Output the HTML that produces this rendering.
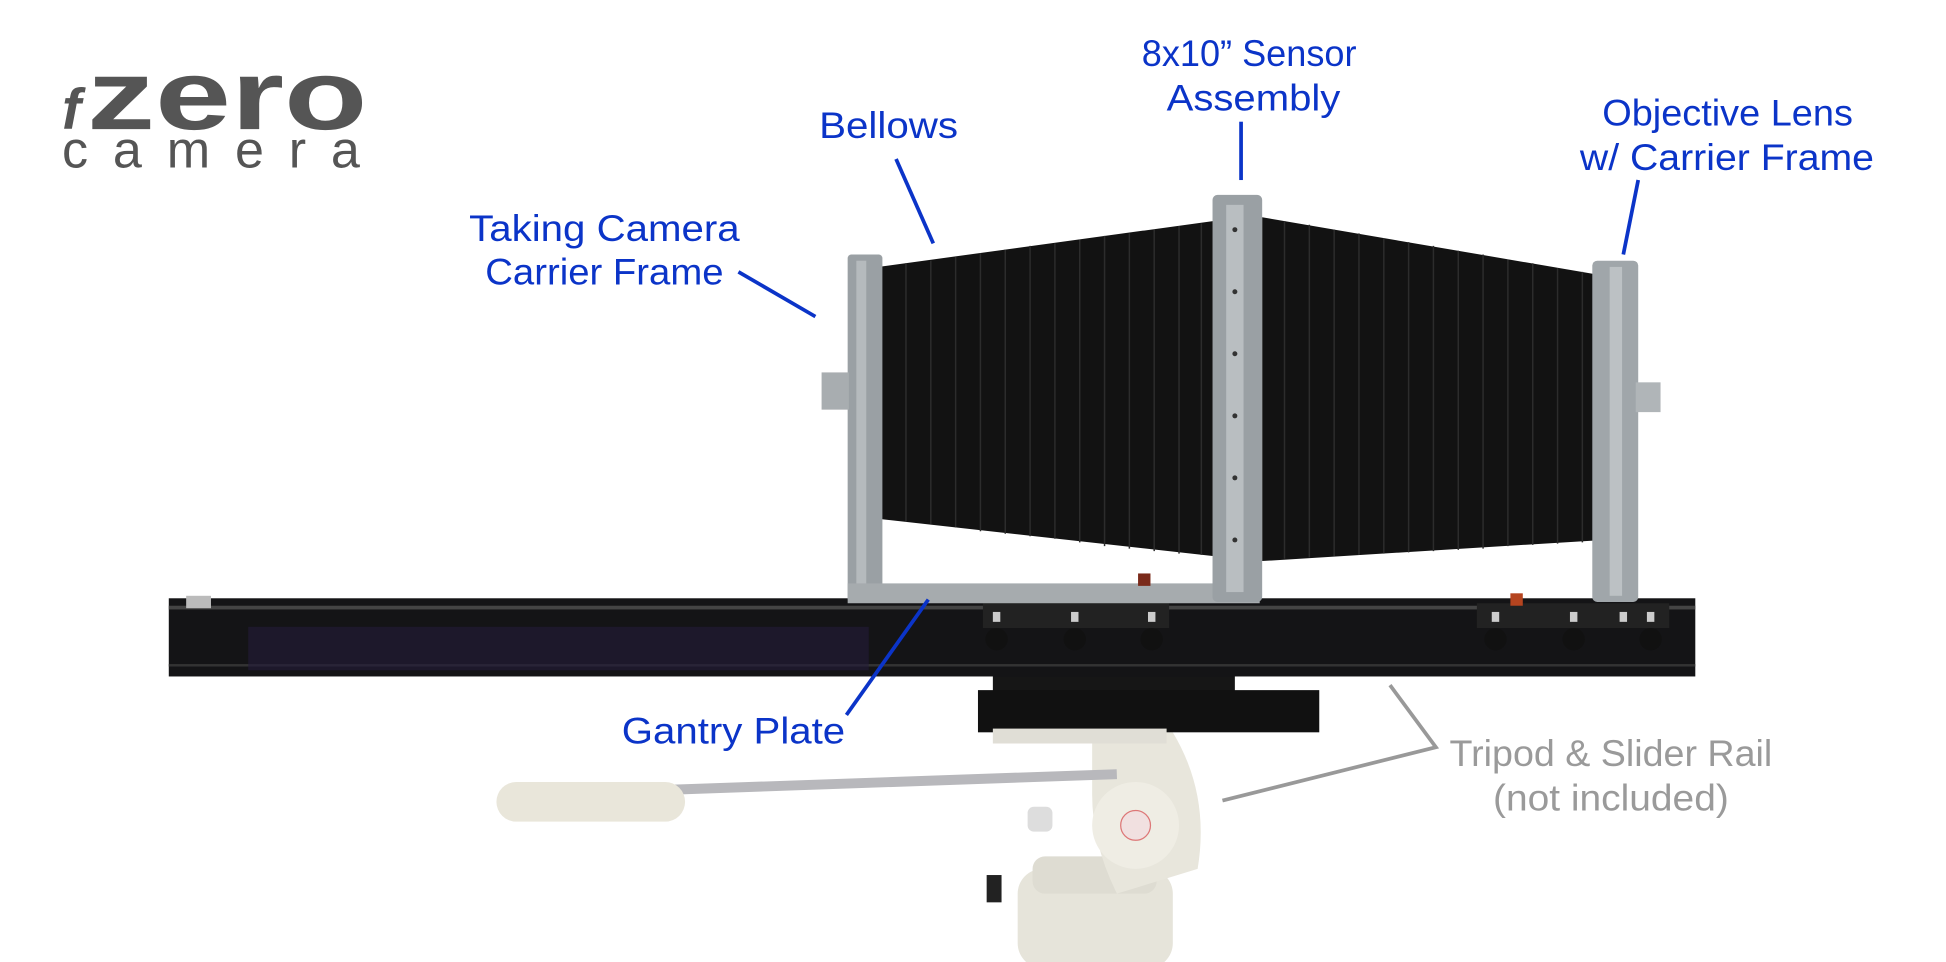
<!DOCTYPE html>
<html><head><style>
html,body{margin:0;padding:0;background:#fff;}
svg{display:block}
text{font-family:"Liberation Sans",sans-serif;}
</style></head><body>
<svg width="1946" height="962" viewBox="0 0 1568 775" xmlns="http://www.w3.org/2000/svg">
<rect width="1568" height="775" fill="#fff"/>
<!-- logo -->
<text x="50" y="104" font-size="46" font-weight="bold" font-style="italic" fill="#555">f</text>
<text x="70" y="104" font-size="80" font-weight="bold" fill="#555" textLength="226" lengthAdjust="spacingAndGlyphs">zero</text>
<text x="50" y="135" font-size="42" fill="#555" textLength="240" lengthAdjust="spacing">camera</text>

<!-- tripod -->
<rect x="820" y="700" width="125" height="80" rx="20" fill="#e6e4da"/>
<rect x="832" y="690" width="100" height="30" rx="10" fill="#dedcd2"/>
<path d="M880 590 L945 590 Q975 640 965 700 L900 720 Q880 680 880 640 Z" fill="#e8e6dc"/>
<circle cx="915" cy="665" r="35" fill="#efede4"/>
<circle cx="915" cy="665" r="12" fill="#f1e0e0" stroke="#d77" stroke-width="1"/>
<rect x="540" y="626" width="360" height="8" fill="#b8b8bc" transform="rotate(-2 720 630)"/>
<rect x="400" y="630" width="152" height="32" rx="16" fill="#e9e6da"/>
<rect x="828" y="650" width="20" height="20" rx="5" fill="#ddd"/>
<rect x="795" y="705" width="12" height="22" fill="#222"/>

<!-- mount plates -->
<rect x="800" y="540" width="195" height="30" fill="#161616"/>
<rect x="788" y="556" width="275" height="34" fill="#111"/>
<rect x="800" y="587" width="140" height="12" fill="#e0ded6"/>

<!-- rail -->
<rect x="136" y="482" width="1230" height="63" fill="#141416"/>
<rect x="136" y="488" width="1230" height="3" fill="#444"/>
<rect x="136" y="535" width="1230" height="2" fill="#333"/>
<rect x="200" y="505" width="500" height="35" fill="#231a3a" opacity="0.6"/>
<rect x="150" y="480" width="20" height="10" fill="#bbb"/>
<rect x="792" y="486" width="150" height="20" fill="#222"/>
<rect x="1190" y="486" width="155" height="20" fill="#222"/>
<g fill="#111">
<circle cx="803" cy="515" r="9"/><circle cx="866" cy="515" r="9"/><circle cx="928" cy="515" r="9"/>
<circle cx="1205" cy="515" r="9"/><circle cx="1268" cy="515" r="9"/><circle cx="1330" cy="515" r="9"/>
</g>
<g fill="#ccc">
<rect x="800" y="493" width="6" height="8"/><rect x="863" y="493" width="6" height="8"/><rect x="925" y="493" width="6" height="8"/>
<rect x="1202" y="493" width="6" height="8"/><rect x="1265" y="493" width="6" height="8"/><rect x="1327" y="493" width="6" height="8"/><rect x="1305" y="493" width="6" height="8"/>
</g>
<rect x="1217" y="478" width="10" height="10" fill="#b5441f"/>

<!-- bellows -->
<polygon points="708,215 978,178 978,448 708,418" fill="#121212"/>
<polygon points="1017,175 1292,222 1292,435 1017,452" fill="#121212"/>
<g stroke="#2c2c2c" stroke-width="1.2">
<path d="M730 212V420M750 210V422M770 207V425M790 204V428M810 201V430M830 198V432M850 196V434M870 193V437M890 190V440M910 188V442M930 185V444M950 182V446M968 180V447"/>
<path d="M1035 178V450M1055 181V449M1075 185V448M1095 188V447M1115 192V446M1135 195V445M1155 198V444M1175 202V443M1195 205V442M1215 209V440M1235 212V439M1255 216V438M1275 219V437"/>
</g>
<rect x="683" y="205" width="28" height="280" rx="3" fill="#9aa0a4"/>
<rect x="690" y="210" width="8" height="270" fill="#b5babd"/>
<rect x="662" y="300" width="22" height="30" fill="#a8adb0"/>
<rect x="683" y="470" width="332" height="16" fill="#a6abae"/>
<rect x="977" y="157" width="40" height="328" rx="4" fill="#9aa0a4"/>
<rect x="988" y="165" width="14" height="312" fill="#b9bec1"/>
<rect x="1283" y="210" width="37" height="275" rx="4" fill="#a0a6aa"/>
<rect x="1297" y="215" width="10" height="265" fill="#bcc1c4"/>
<rect x="1318" y="308" width="20" height="24" fill="#b0b5b8"/>
<rect x="917" y="462" width="10" height="10" fill="#7a2a1a"/>
<g fill="#333">
<circle cx="995" cy="185" r="2"/><circle cx="995" cy="235" r="2"/><circle cx="995" cy="285" r="2"/><circle cx="995" cy="335" r="2"/><circle cx="995" cy="385" r="2"/><circle cx="995" cy="435" r="2"/>
</g>

<!-- connectors -->
<g stroke="#0b34c8" stroke-width="3" fill="none">
<line x1="722" y1="128" x2="752" y2="196"/>
<line x1="1000" y1="98" x2="1000" y2="145"/>
<line x1="1320" y1="145" x2="1308" y2="205"/>
<line x1="595" y1="219" x2="657" y2="255"/>
<line x1="682" y1="576" x2="748" y2="483"/>
</g>
<polyline points="1120,552 1157,602 985,645" stroke="#999" stroke-width="3" fill="none"/>

<!-- labels -->
<g fill="#0b34c8" font-size="30" lengthAdjust="spacingAndGlyphs">
<text x="660" y="111" textLength="112" lengthAdjust="spacingAndGlyphs">Bellows</text>
<text x="920" y="53" textLength="173" lengthAdjust="spacingAndGlyphs">8x10” Sensor</text>
<text x="940" y="89" textLength="140" lengthAdjust="spacingAndGlyphs">Assembly</text>
<text x="1291" y="101" textLength="202" lengthAdjust="spacingAndGlyphs">Objective Lens</text>
<text x="1273" y="137" textLength="237" lengthAdjust="spacingAndGlyphs">w/ Carrier Frame</text>
<text x="378" y="194" textLength="218" lengthAdjust="spacingAndGlyphs">Taking Camera</text>
<text x="391" y="229" textLength="192" lengthAdjust="spacingAndGlyphs">Carrier Frame</text>
<text x="501" y="599" textLength="180" lengthAdjust="spacingAndGlyphs">Gantry Plate</text>
</g>
<g fill="#9a9a9a" font-size="30">
<text x="1168" y="617" textLength="260" lengthAdjust="spacingAndGlyphs">Tripod &amp; Slider Rail</text>
<text x="1203" y="653" textLength="190" lengthAdjust="spacingAndGlyphs">(not included)</text>
</g>
</svg>
</body></html>
